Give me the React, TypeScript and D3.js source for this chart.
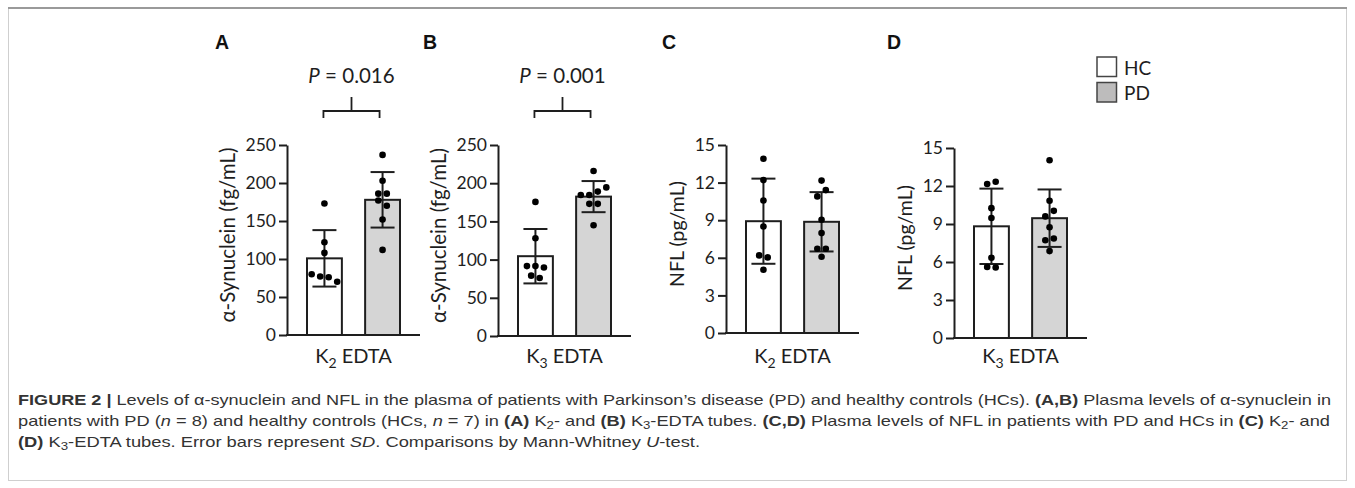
import React, { useEffect, useRef } from "react";
import * as d3 from "d3";

// ---------- data ----------
const groups = ["HC", "PD"];
const panelLetters = ["A", "B", "C", "D"];
const tubeSubscripts = ["2", "3", "2", "3"];
const yLabels = ["α-Synuclein (fg/mL)", "α-Synuclein (fg/mL)", "NFL (pg/mL)", "NFL (pg/mL)"];
const synTicks = [0, 50, 100, 150, 200, 250];
const nflTicks = [0, 3, 6, 9, 12, 15];
const pValues = ["0.016", "0.001", null, null];

// individual values (order = left-to-right inside tied rows)
const hcA = [173, 122, 108, 80, 77, 76, 70];
const pdA = [237, 203, 186, 186, 177, 170, 152, 112];
const hcB = [175.5, 128, 91.5, 91.5, 89.7, 79, 76];
const pdB = [216, 184.5, 184.5, 189, 194.5, 173, 173, 145];
const hcC = [13.9, 12.2, 10.57, 8.5, 6.19, 6.03, 5.05];
const pdC = [12.16, 10.9, 11.4, 9.03, 7.97, 6.72, 6.72, 6.08];
const hcD = [12.16, 12.34, 10.25, 9.47, 6.34, 5.6, 5.56];
const pdD = [14.03, 10.83, 9.6, 10.04, 8.74, 7.72, 7.85, 6.86];

const panelValues = [
  [hcA, pdA],
  [hcB, pdB],
  [hcC, pdC],
  [hcD, pdD],
];

// ---------- layout ----------
const W = 1355;
const H = 488;
const axisXs = [287, 498, 726, 954];
const axisTops = [145, 145, 145, 148];
const axisBottoms = [335, 336, 333, 338];
const letterXs = [215, 423, 662, 887];
const axisLen = 133;
const tickFont = "Lato, 'Open Sans', sans-serif";
const HC_FILL = "#ffffff";
const PD_FILL = "#d5d5d5";
const INK = "#1e1e1e";

type Seg = { t: string; b?: boolean; i?: boolean; sub?: boolean };
const captionLines: Seg[][] = [
  [
    { t: "FIGURE 2 | ", b: true },
    { t: "Levels of α-synuclein and NFL in the plasma of patients with Parkinson’s disease (PD) and healthy controls (HCs). " },
    { t: "(A,B)", b: true },
    { t: " Plasma levels of α-synuclein in" },
  ],
  [
    { t: "patients with PD (" },
    { t: "n", i: true },
    { t: " = 8) and healthy controls (HCs, " },
    { t: "n", i: true },
    { t: " = 7) in " },
    { t: "(A)", b: true },
    { t: " K" },
    { t: "2", sub: true },
    { t: "- and " },
    { t: "(B)", b: true },
    { t: " K" },
    { t: "3", sub: true },
    { t: "-EDTA tubes. " },
    { t: "(C,D)", b: true },
    { t: " Plasma levels of NFL in patients with PD and HCs in " },
    { t: "(C)", b: true },
    { t: " K" },
    { t: "2", sub: true },
    { t: "- and" },
  ],
  [
    { t: "(D)", b: true },
    { t: " K" },
    { t: "3", sub: true },
    { t: "-EDTA tubes. Error bars represent " },
    { t: "SD", i: true },
    { t: ". Comparisons by Mann-Whitney " },
    { t: "U", i: true },
    { t: "-test." },
  ],
];
const captionWidths = [1313, 1312, 682];
const captionBaselines = [405, 426, 447];

function swarmOffsets(vals: number[], y: d3.ScaleLinear<number, number>, thresh: number, spacing: number) {
  const idx = vals.map((_, i) => i).sort((a, b) => vals[b] - vals[a]);
  const offs = new Array(vals.length).fill(0);
  let cluster: number[] = [];
  const flush = () => {
    const c = [...cluster].sort((a, b) => a - b);
    c.forEach((k, j) => (offs[k] = (j - (c.length - 1) / 2) * spacing));
    cluster = [];
  };
  idx.forEach((k) => {
    if (cluster.length) {
      const last = cluster[cluster.length - 1];
      if (Math.abs(y(vals[k]) - y(vals[last])) >= thresh) flush();
    }
    cluster.push(k);
  });
  flush();
  return offs;
}

function Panel({ p }: { p: number }) {
  const axisRef = useRef<SVGGElement>(null);
  const ticks = p < 2 ? synTicks : nflTicks;
  const ax = axisXs[p];
  const y = d3
    .scaleLinear()
    .domain([0, ticks[ticks.length - 1]])
    .range([axisBottoms[p], axisTops[p]]);
  const x = d3
    .scaleBand<string>()
    .domain(groups)
    .range([ax + 20, ax + 113])
    .paddingInner(0.4)
    .paddingOuter(0);

  useEffect(() => {
    if (!axisRef.current) return;
    const g = d3.select(axisRef.current);
    g.selectAll("*").remove();
    g.call(d3.axisLeft(y).tickValues(ticks).tickSize(8).tickSizeOuter(0).tickPadding(3).tickFormat(d3.format("d")));
    g.select(".domain").attr("stroke", INK).attr("stroke-width", 2);
    g.selectAll(".tick line").attr("stroke", INK).attr("stroke-width", 2);
    g.selectAll(".tick text")
      .attr("fill", INK)
      .style("font-family", tickFont)
      .style("font-size", "17.5px");
  }, [p]);

  const maxDigits = String(ticks[ticks.length - 1]).length;
  const labelX = ax - 11 - maxDigits * 9.9 - 19;
  const labelY = (axisTops[p] + axisBottoms[p]) / 2 - 5;
  const bw = x.bandwidth();
  const capW = 24;
  const y0 = y(0);

  const c0 = x("HC")! + bw / 2;
  const c1 = x("PD")! + bw / 2;
  const bracketY = 111;

  return (
    <g>
      <text x={letterXs[p]} y={49}
        style={{ fontFamily: "'Liberation Sans', Arial, sans-serif", fontWeight: 700, fontSize: 19.5 }} fill="#111">
        {panelLetters[p]}
      </text>
      {groups.map((gName, gi) => {
        const vals = panelValues[p][gi];
        const m = d3.mean(vals)!;
        const sd = d3.deviation(vals)!;
        const cx = x(gName)! + bw / 2;
        const offs = swarmOffsets(vals, y, 6.5, 8.5);
        return (
          <g key={gName}>
            <rect x={x(gName)!} y={y(m)} width={bw} height={y0 - y(m)}
              fill={gi === 0 ? HC_FILL : PD_FILL} stroke={INK} strokeWidth={2} />
            <line x1={cx} x2={cx} y1={y(m + sd)} y2={y(m - sd)} stroke={INK} strokeWidth={2} />
            <line x1={cx - capW / 2} x2={cx + capW / 2} y1={y(m + sd)} y2={y(m + sd)} stroke={INK} strokeWidth={2} />
            <line x1={cx - capW / 2} x2={cx + capW / 2} y1={y(m - sd)} y2={y(m - sd)} stroke={INK} strokeWidth={2} />
            {vals.map((v, i) => (
              <circle key={i} cx={cx + offs[i]} cy={y(v)} r={3.3} fill="#000" />
            ))}
          </g>
        );
      })}
      <line x1={ax - 1} x2={ax + axisLen} y1={y0} y2={y0} stroke={INK} strokeWidth={2} />
      <g ref={axisRef} transform={`translate(${ax},0)`} />
      <text transform={`translate(${labelX},${labelY}) rotate(-90)`} textAnchor="middle" dominantBaseline="central"
        style={{ fontFamily: tickFont, fontSize: p < 2 ? 20.5 : 19.5 }} fill={INK}>
        {yLabels[p]}
      </text>
      <text x={(c0 + c1) / 2} y={363} textAnchor="middle" style={{ fontFamily: tickFont, fontSize: 20 }} fill={INK}>
        K<tspan fontSize={14} dy={5}>{tubeSubscripts[p]}</tspan>
        <tspan dy={-5}> EDTA</tspan>
      </text>
      {pValues[p] && (
        <g>
          <text x={(c0 + c1) / 2 - 2} y={83} textAnchor="middle" style={{ fontFamily: tickFont, fontSize: 20.5 }} fill={INK}>
            <tspan fontStyle="italic">P</tspan> = {pValues[p]}
          </text>
          <path
            d={`M${c0 - 1},${bracketY + 7}V${bracketY}H${c1 - 3}V${bracketY + 7}M${(c0 + c1) / 2 - 2},${bracketY}V${bracketY - 14}`}
            fill="none" stroke={INK} strokeWidth={1.8} />
        </g>
      )}
    </g>
  );
}

export default function App() {
  return (
    <svg width={W} height={H} style={{ position: "absolute", left: 0, top: 0, background: "#fff" }}>
      <rect x={0} y={0} width={W} height={H} fill="#fff" />
      <rect x={8.5} y={8.5} width={W - 17} height={H - 16} fill="none" stroke="#cfcfcf" strokeWidth={1} />
      <line x1={8} x2={W - 8} y1={8} y2={8} stroke="#9a9a9a" strokeWidth={2} />
      {[0, 1, 2, 3].map((p) => (
        <Panel key={p} p={p} />
      ))}
      {/* legend */}
      {groups.map((gName, gi) => (
        <g key={gName}>
          <rect x={1097} y={57 + gi * 25.5} width={19.5} height={19.5}
            fill={gi === 0 ? "#fff" : "#bdbcbc"} stroke="#444" strokeWidth={1.5} />
          <text x={1124} y={67 + gi * 25.5} dominantBaseline="central"
            style={{ fontFamily: tickFont, fontSize: 19 }} fill={INK}>
            {gName}
          </text>
        </g>
      ))}
      {/* caption */}
      {captionLines.map((segs, li) => (
        <text key={li} x={18} y={captionBaselines[li]} textLength={captionWidths[li]} lengthAdjust="spacingAndGlyphs"
          style={{ fontFamily: "'Liberation Sans Narrow', 'Liberation Sans', Arial, sans-serif", fontSize: 14.5 }} fill="#333">
          {segs.map((s, si) => (
            <tspan key={si}
              fontWeight={s.b ? 700 : 400}
              fontStyle={s.i ? "italic" : "normal"}
              fontSize={s.sub ? 10.5 : undefined}
              dy={s.sub ? 3 : si > 0 && segs[si - 1].sub ? -3 : undefined}>
              {s.t}
            </tspan>
          ))}
        </text>
      ))}
    </svg>
  );
}
